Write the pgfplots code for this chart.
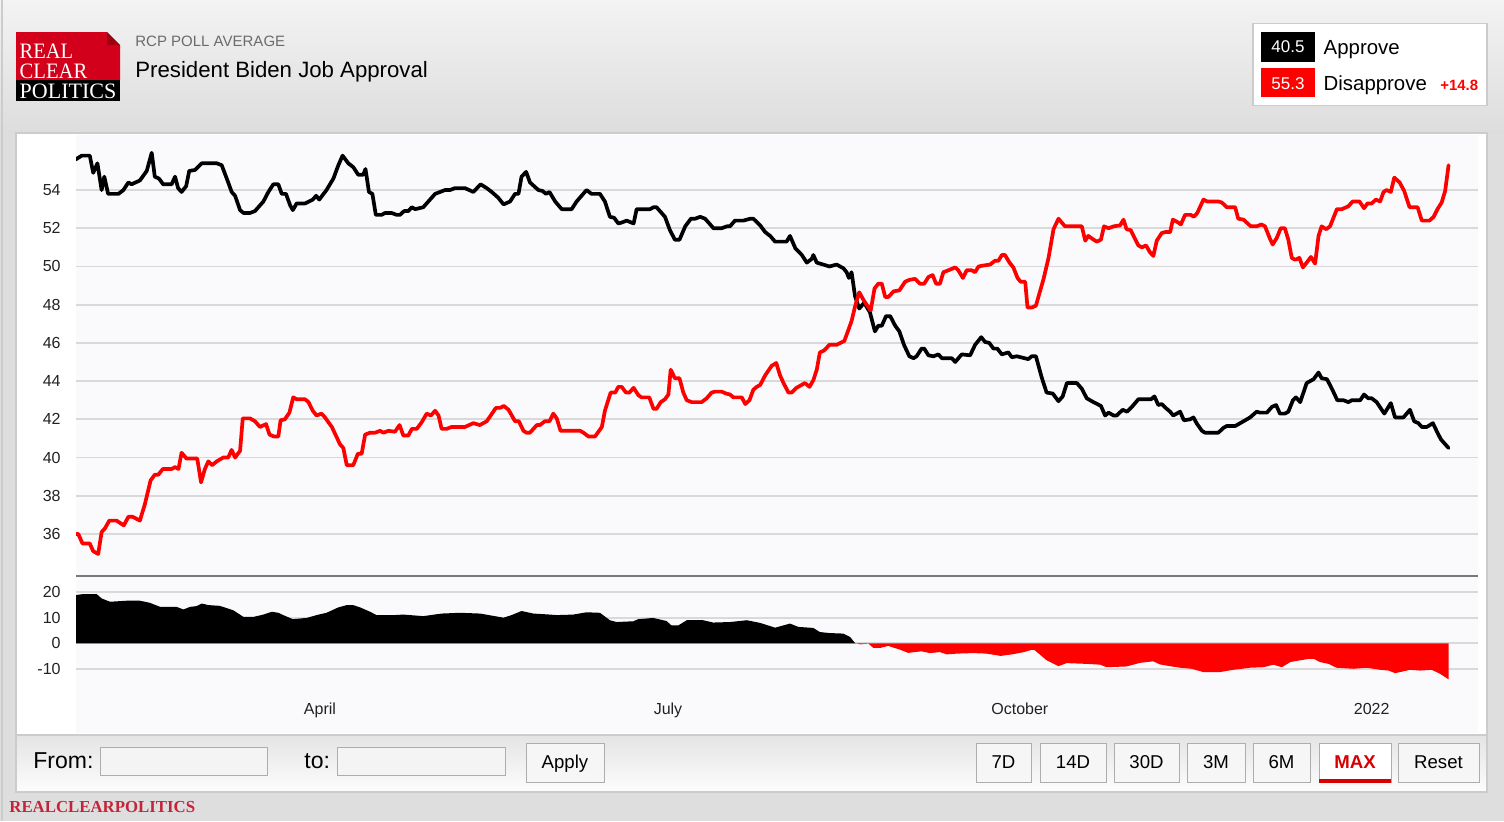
\documentclass[border=0pt]{standalone}
\usepackage{pgfplots}
\pgfplotsset{compat=1.18}
\usepackage{pgfplotstable}
\usepackage{fontspec}
\setmainfont{Liberation Sans}
\newfontfamily\seriffont{Liberation Serif}
\definecolor{hdrtop}{HTML}{F3F3F3}
\definecolor{hdrbot}{HTML}{DDDDDD}
\definecolor{bggrey}{HTML}{DEDEDE}
\definecolor{boxborder}{HTML}{CCCCCC}
\definecolor{plotbg}{HTML}{FAFAFC}
\definecolor{gridc}{HTML}{D9D9D9}
\definecolor{titlegrey}{HTML}{6B6B6B}
\definecolor{rcpred}{HTML}{D2001A}
\definecolor{rcpdark}{HTML}{9E0012}
\definecolor{btnborder}{HTML}{ADADAD}
\definecolor{btnfill}{HTML}{F6F6F6}
\definecolor{maxred}{HTML}{D60000}
\definecolor{footred}{HTML}{C4243A}
\definecolor{seprule}{HTML}{7A7A7A}
\definecolor{tickc}{HTML}{222222}
\definecolor{pure red}{HTML}{FF0000}

\begin{document}
\pgfplotstableread{
d v
26.1 55.6
27.7 55.8
29.8 55.8
30.7 54.9
31.8 55.4
32.9 54.0
33.6 54.7
34.6 53.8
37.3 53.8
38.6 54.0
39.9 54.4
40.7 54.3
42.9 54.5
44.7 55.0
46.0 55.95
46.8 54.7
47.9 54.6
49.0 54.3
51.2 54.3
52.1 54.7
52.9 54.1
53.8 53.9
55.0 54.2
55.8 55.0
57.3 55.05
59.1 55.4
63.0 55.4
64.3 55.3
66.0 54.4
66.9 53.9
67.8 53.7
69.1 52.95
70.0 52.8
71.7 52.8
73.0 52.9
75.2 53.4
76.5 53.9
77.8 54.3
79.1 54.3
80.0 53.8
81.1 53.8
82.2 53.2
82.9 52.95
83.9 53.3
86.1 53.3
88.1 53.5
89.0 53.7
89.8 53.5
91.7 54.0
93.5 54.6
94.8 55.3
95.9 55.8
97.4 55.4
98.7 55.2
100.0 54.8
101.3 54.8
101.9 55.1
102.8 53.9
103.7 53.8
104.6 52.7
106.1 52.7
107.0 52.8
108.7 52.8
110.1 52.7
110.9 52.7
112.0 52.9
113.1 52.9
114.0 53.1
114.9 53.0
117.0 53.1
120.1 53.8
122.7 54.0
124.0 54.0
125.3 54.1
127.9 54.1
130.1 53.9
132.0 54.3
133.6 54.1
134.9 53.9
136.6 53.6
138.0 53.25
139.7 53.4
141.0 53.8
141.9 53.8
142.7 54.7
143.9 54.95
144.9 54.4
147.1 54.0
148.2 53.95
149.1 53.8
150.0 53.9
151.5 53.4
153.2 53.0
155.8 53.0
157.1 53.4
158.4 53.7
159.7 54.0
161.0 53.8
163.2 53.8
164.5 53.4
165.8 52.6
166.9 52.55
168.0 52.25
168.9 52.3
170.2 52.4
172.0 52.25
172.8 53.0
174.6 53.0
176.3 53.0
177.2 53.1
178.0 53.1
180.2 52.6
181.5 51.9
182.8 51.4
184.0 51.4
185.5 52.1
187.0 52.5
188.1 52.5
189.4 52.6
190.7 52.5
192.9 52.0
195.0 52.0
196.4 52.1
197.2 52.1
198.5 52.4
200.7 52.4
202.5 52.5
203.3 52.5
205.1 52.15
206.4 51.8
207.7 51.6
209.0 51.3
212.0 51.3
212.9 51.6
214.3 50.95
216.0 50.6
217.3 50.2
218.6 50.4
219.0 50.6
219.9 50.2
221.6 50.1
223.2 50.0
225.1 50.1
226.9 49.9
227.7 49.7
228.3 49.4
229.0 49.7
229.9 48.45
231.0 47.8
232.3 48.1
233.8 47.6
235.1 46.6
236.0 46.9
236.9 46.9
238.0 47.4
239.1 47.4
240.4 46.9
241.5 46.6
242.7 45.9
244.1 45.3
245.2 45.2
246.0 45.3
247.3 45.7
248.0 45.7
249.1 45.35
250.4 45.3
251.7 45.4
252.6 45.2
253.9 45.2
255.2 45.2
256.1 45.0
257.8 45.4
260.0 45.35
261.3 45.9
262.9 46.3
263.9 46.05
265.0 46.0
266.1 45.7
267.1 45.7
268.3 45.4
270.0 45.5
270.9 45.25
272.2 45.3
275.2 45.15
276.1 45.3
277.2 45.3
278.7 44.2
280.0 43.4
281.6 43.35
283.1 42.95
284.2 43.2
285.3 43.9
287.9 43.9
289.2 43.6
290.5 43.1
291.8 42.95
294.2 42.7
295.3 42.2
296.2 42.35
297.5 42.2
298.3 42.2
299.9 42.5
301.0 42.4
302.5 42.7
304.0 43.05
307.3 43.05
308.2 43.2
309.2 42.75
310.1 42.8
311.4 42.55
312.3 42.4
313.1 42.2
314.9 42.4
315.9 41.95
317.5 42.0
318.4 42.1
319.2 41.8
320.6 41.4
321.4 41.3
324.9 41.3
326.2 41.55
327.1 41.65
329.3 41.65
331.5 41.9
333.2 42.1
334.9 42.4
335.8 42.35
337.6 42.35
338.9 42.65
340.0 42.75
341.0 42.3
342.3 42.3
343.2 42.4
344.4 43.0
345.2 43.15
346.3 42.9
348.0 43.9
349.8 44.1
351.1 44.45
351.9 44.15
353.3 44.1
354.6 43.6
356.0 43.0
357.6 43.0
358.9 42.9
359.8 43.0
362.0 43.0
363.0 43.3
364.1 43.1
365.0 43.1
366.3 42.9
368.3 42.3
370.0 42.85
371.1 42.1
373.3 42.1
375.0 42.5
376.1 41.9
377.2 41.8
378.1 41.6
379.4 41.6
381.0 41.8
382.2 41.3
383.1 40.95
385.1 40.5
}\approve

\pgfplotstableread{
d v
26.1 36.0
26.8 36.0
27.9 35.5
29.8 35.5
30.7 35.1
32.0 34.95
32.9 36.1
33.8 36.3
34.9 36.7
36.8 36.7
38.7 36.45
39.9 36.9
41.0 36.9
42.9 36.7
44.2 37.55
45.7 38.8
46.8 39.1
47.7 39.1
48.9 39.4
51.2 39.4
52.1 39.5
53.0 39.4
53.8 40.25
55.1 39.95
57.9 39.95
58.9 38.7
59.9 39.4
60.8 39.8
61.8 39.6
63.0 39.8
64.7 40.0
66.0 40.0
66.9 40.4
67.8 40.0
69.1 40.35
69.8 42.05
71.7 42.05
73.0 41.9
74.3 41.6
75.9 41.75
76.8 41.2
78.0 41.1
79.1 41.1
79.7 41.95
80.8 42.0
82.0 42.35
83.0 43.15
83.9 43.05
86.1 43.05
87.0 42.9
88.1 42.45
89.1 42.2
90.4 42.3
91.3 42.1
93.1 41.6
94.4 41.05
95.2 40.7
96.1 40.5
97.0 39.6
98.7 39.6
99.9 40.2
100.9 40.2
101.8 41.2
103.1 41.3
104.4 41.3
105.7 41.4
106.6 41.3
107.9 41.4
109.6 41.35
110.8 41.7
111.8 41.15
113.1 41.15
114.0 41.5
115.3 41.5
116.6 41.85
117.9 42.3
119.0 42.2
120.1 42.45
121.0 42.2
121.8 41.5
123.1 41.5
124.4 41.6
127.9 41.6
130.1 41.8
131.8 41.7
133.6 41.9
136.0 42.6
137.1 42.6
138.1 42.7
139.3 42.5
141.0 41.9
142.0 41.9
143.2 41.4
144.0 41.3
144.9 41.3
146.7 41.7
147.5 41.7
148.8 41.9
150.0 41.9
151.0 42.3
151.9 42.05
152.9 41.4
158.0 41.4
158.9 41.3
160.2 41.1
161.9 41.1
163.7 41.6
164.5 42.45
166.0 43.4
167.2 43.4
168.0 43.7
168.9 43.7
170.0 43.4
170.9 43.4
172.0 43.65
173.3 43.25
174.1 43.15
176.1 43.15
177.2 42.55
178.0 42.55
179.1 42.9
180.2 43.05
181.1 43.3
181.7 44.6
182.8 44.15
184.0 44.15
185.0 43.4
185.9 43.0
187.2 42.9
189.8 42.9
191.1 43.1
192.4 43.4
193.3 43.45
195.0 43.45
196.2 43.35
197.2 43.3
198.1 43.15
200.3 43.15
201.2 42.8
202.3 43.0
203.3 43.55
204.2 43.7
205.1 43.8
206.4 44.3
208.1 44.8
209.3 44.95
210.3 44.3
211.2 43.9
212.5 43.4
213.3 43.4
214.6 43.65
216.8 43.9
218.0 43.7
219.0 44.05
219.9 44.6
220.7 45.5
221.8 45.6
223.2 45.9
225.1 45.9
227.1 46.1
228.2 46.7
229.0 47.15
229.9 47.9
231.0 48.65
232.1 48.25
233.1 47.95
234.0 47.7
235.0 48.85
236.0 49.1
236.9 49.1
237.8 48.4
238.6 48.4
240.0 48.7
241.5 48.75
243.0 49.2
244.1 49.3
245.6 49.35
246.9 49.1
248.0 49.1
249.1 49.45
250.2 49.55
251.1 49.1
252.1 49.1
253.0 49.7
254.3 49.8
256.1 49.95
256.9 49.8
258.1 49.4
259.1 49.8
260.4 49.8
261.3 49.7
262.2 50.0
263.5 50.05
265.2 50.1
266.5 50.3
267.4 50.3
268.3 50.6
269.1 50.6
270.3 50.2
271.3 49.95
272.4 49.4
273.2 49.2
274.4 49.2
275.0 47.85
276.1 47.85
277.2 47.95
279.2 49.35
280.5 50.45
281.8 51.95
283.1 52.5
284.8 52.1
289.2 52.1
290.1 51.35
290.9 51.6
292.3 51.4
293.1 51.3
294.2 51.4
295.0 52.1
296.2 52.0
297.5 52.1
299.2 52.15
300.1 52.45
300.9 51.95
302.0 51.9
303.1 51.45
304.0 51.1
304.9 51.0
306.0 51.1
307.0 50.75
307.9 50.55
308.8 51.35
310.1 51.75
311.0 51.8
312.3 51.8
313.0 52.45
314.0 52.35
315.1 52.2
316.2 52.7
317.7 52.7
318.5 52.6
319.4 52.8
321.0 53.5
322.0 53.4
324.9 53.4
325.8 53.35
327.1 53.1
329.3 53.1
330.1 52.5
331.5 52.45
332.3 52.3
333.4 52.1
334.9 52.1
336.2 52.2
337.1 52.1
338.3 51.5
339.1 51.15
340.2 51.5
341.2 52.0
342.3 52.0
343.2 51.4
344.1 50.45
345.0 50.35
346.1 50.45
347.0 49.95
348.0 50.2
349.1 50.5
350.2 50.15
351.1 51.6
351.9 52.1
353.1 51.95
354.1 52.1
355.9 53.0
357.2 53.0
358.9 53.15
360.0 53.4
361.8 53.4
363.0 53.05
363.9 53.3
365.0 53.3
366.1 53.5
367.2 53.4
368.1 53.9
368.9 54.0
370.0 53.9
370.9 54.65
372.3 54.4
373.5 53.95
374.9 53.1
377.0 53.1
378.1 52.4
380.1 52.4
381.2 52.6
382.2 53.0
383.3 53.35
384.2 53.95
385.1 55.3
}\disapprove

\pgfplotstableread{
d v
26.1 0
26.1 18.8
28.1 19.2
31.6 19.2
32.9 17.5
35.1 16.2
39.4 16.6
42.9 16.6
45.5 15.8
48.2 14.2
52.5 14.2
54.3 13.2
56.0 14.2
57.7 14.5
59.1 15.5
60.8 14.9
63.8 14.6
67.3 12.9
70.0 10.3
72.6 10.3
75.2 11.2
77.4 12.3
79.1 11.9
80.4 11.0
82.9 9.4
86.5 9.9
89.1 11.0
91.7 11.9
94.8 14.0
97.0 14.9
98.7 14.9
100.5 14.0
103.1 12.3
104.8 11.0
109.2 11.0
111.8 11.2
117.0 10.6
121.8 11.6
126.6 11.9
131.9 11.6
135.3 10.7
138.0 10.0
140.1 11.0
142.7 12.6
145.8 11.6
149.2 11.3
151.9 11.0
156.2 11.2
159.7 12.1
163.2 11.9
165.8 9.0
167.6 8.3
171.9 8.6
173.2 9.4
177.1 9.9
180.6 8.7
181.9 7.0
183.7 7.0
185.9 9.0
190.2 9.0
192.8 8.1
197.2 8.3
201.6 9.0
205.0 8.0
209.0 6.1
212.9 7.7
215.1 6.4
219.0 6.0
220.7 4.4
223.3 4.0
226.8 3.8
228.6 2.5
229.9 0.1
230.2 0
}\spreadpos

\pgfplotstableread{
d v
230.2 0
231.2 -0.4
233.4 -0.1
234.7 -1.8
236.4 -1.8
238.6 -1.0
241.7 -2.5
243.8 -3.7
247.3 -3.1
249.5 -3.8
252.1 -3.4
253.9 -4.3
256.5 -4.0
260.8 -3.8
264.3 -4.0
268.0 -4.9
271.3 -4.2
274.1 -3.4
276.1 -2.5
276.9 -2.7
280.0 -6.6
283.1 -8.9
285.2 -7.7
290.5 -8.0
294.0 -8.3
295.7 -9.3
300.9 -9.0
304.4 -7.6
307.9 -7.0
309.6 -8.2
312.3 -8.9
314.9 -9.5
317.9 -9.9
321.0 -11.2
325.3 -11.2
328.8 -10.3
333.2 -9.5
336.7 -9.3
339.3 -8.3
341.5 -9.3
343.7 -7.3
346.3 -6.6
348.4 -6.1
349.8 -6.0
351.5 -7.3
353.7 -8.0
355.8 -9.5
360.2 -9.9
363.7 -9.5
367.2 -10.3
369.4 -10.6
371.1 -11.6
372.4 -11.2
375.0 -10.3
377.7 -10.6
380.7 -10.3
382.9 -11.9
385.1 -14.0
385.1 0
}\spreadneg

\begin{tikzpicture}
\begin{scope}[x=0.5pt,y=-0.5pt]
\useasboundingbox (0,0) rectangle (1504,821);
% background
\fill[bggrey] (0,0) rectangle (1504,821);
\shade[top color=hdrtop, bottom color=hdrbot] (0,0) rectangle (1504,133);
\draw[boxborder, line width=0.6pt] (2,0) -- (2,821);
% chart box
\fill[white] (16,133) rectangle (1487,735);
\shade[top color={rgb,255:red,228;green,228;blue,228}, bottom color={rgb,255:red,253;green,253;blue,253}] (16,735) rectangle (1487,792);
\draw[boxborder, line width=0.6pt] (16,735) -- (1487,735);
\draw[boxborder, line width=0.6pt] (16,133) rectangle (1487,792);
\fill[plotbg] (76,135) rectangle (1478,733);
% logo
\fill[rcpred] (16,32) -- (107,32) -- (120,45) -- (120,80) -- (16,80) -- cycle;
\fill[rcpdark] (107,32) -- (120,45) -- (107,45) -- cycle;
\fill[black] (16,80) rectangle (120,100.7);
\node[anchor=base west, inner sep=0pt, text=white, font=\seriffont\fontsize{11}{11}\selectfont, xscale=0.93] at (19.3,58) {REAL};
\node[anchor=base west, inner sep=0pt, text=white, font=\seriffont\fontsize{11}{11}\selectfont, xscale=0.94] at (19.3,78) {CLEAR};
\node[anchor=base west, inner sep=0pt, text=white, font=\seriffont\fontsize{11}{11}\selectfont] at (19.3,98) {POLITICS};
% titles
\node[anchor=base west, inner sep=0pt, text=titlegrey, font=\fontsize{7.5}{9}\selectfont] at (135,46.7) {RCP POLL AVERAGE};
\node[anchor=base west, inner sep=0pt, text=black, font=\fontsize{11.1}{13}\selectfont] at (135,77.7) {President Biden Job Approval};
% legend
\filldraw[fill=white, draw=boxborder, line width=0.6pt] (1253,23.3) rectangle (1487,105.7);
\fill[black] (1261,32.3) rectangle (1314.7,61.7);
\fill[pure red] (1261,68.3) rectangle (1314.7,97.3);
\node[anchor=base, inner sep=0pt, text=white, font=\fontsize{8.5}{10}\selectfont] at (1288,52.3) {40.5};
\node[anchor=base, inner sep=0pt, text=white, font=\fontsize{8.5}{10}\selectfont] at (1288,89) {55.3};
\node[anchor=base west, inner sep=0pt, text=black, font=\fontsize{10.2}{12}\selectfont] at (1323.3,54) {Approve};
\node[anchor=base west, inner sep=0pt, text=black, font=\fontsize{10.2}{12}\selectfont] at (1323.3,90) {Disapprove};
\node[anchor=base west, inner sep=0pt, text=pure red, font=\bfseries\fontsize{7.45}{9}\selectfont] at (1440,90) {+14.8};
% controls
\node[anchor=base west, inner sep=0pt, font=\fontsize{11.5}{13}\selectfont] at (33,768.3) {From:};
\node[anchor=base west, inner sep=0pt, font=\fontsize{11.5}{13}\selectfont] at (304,768.3) {to:};
\filldraw[fill={rgb,255:red,244;green,244;blue,244}, draw=btnborder, line width=0.5pt] (100.7,747.7) rectangle (267.7,775.7);
\filldraw[fill={rgb,255:red,244;green,244;blue,244}, draw=btnborder, line width=0.5pt] (337.3,747.7) rectangle (505,775.7);
\filldraw[fill=btnfill, draw=btnborder, line width=0.5pt] (526,743) rectangle (604,782);
\node[anchor=base, inner sep=0pt, font=\fontsize{9.3}{11}\selectfont] at (565,768.3) {Apply};
\filldraw[fill=btnfill, draw=btnborder, line width=0.5pt] (976,743) rectangle (1031,782);
\node[anchor=base, inner sep=0pt, font=\fontsize{9.3}{11}\selectfont] at (1003.5,768.3) {7D};
\filldraw[fill=btnfill, draw=btnborder, line width=0.5pt] (1040,743) rectangle (1106,782);
\node[anchor=base, inner sep=0pt, font=\fontsize{9.3}{11}\selectfont] at (1073,768.3) {14D};
\filldraw[fill=btnfill, draw=btnborder, line width=0.5pt] (1114,743) rectangle (1179,782);
\node[anchor=base, inner sep=0pt, font=\fontsize{9.3}{11}\selectfont] at (1146.5,768.3) {30D};
\filldraw[fill=btnfill, draw=btnborder, line width=0.5pt] (1187,743) rectangle (1245,782);
\node[anchor=base, inner sep=0pt, font=\fontsize{9.3}{11}\selectfont] at (1216,768.3) {3M};
\filldraw[fill=btnfill, draw=btnborder, line width=0.5pt] (1253,743) rectangle (1310,782);
\node[anchor=base, inner sep=0pt, font=\fontsize{9.3}{11}\selectfont] at (1281.5,768.3) {6M};
\filldraw[fill=white, draw=btnborder, line width=0.5pt] (1319,743) rectangle (1391,782);
\fill[maxred] (1319,779) rectangle (1391,782.5);
\node[anchor=base, inner sep=0pt, text=maxred, font=\bfseries\fontsize{9.3}{11}\selectfont] at (1355,768.3) {MAX};
\filldraw[fill=btnfill, draw=btnborder, line width=0.5pt] (1398,743) rectangle (1479,782);
\node[anchor=base, inner sep=0pt, font=\fontsize{9.3}{11}\selectfont] at (1438.5,768.3) {Reset};
% footer
\node[anchor=base west, inner sep=0pt, text=footred, font=\seriffont\bfseries\fontsize{8.4}{10}\selectfont] at (9,812.5) {REALCLEARPOLITICS};
\end{scope}

% top panel
\begin{axis}[
  at={(38pt,-288pt)}, anchor=south west,
  width=701pt, height=220.5pt, scale only axis,
  xmin=26.2, xmax=392.8, ymin=33.8, ymax=56.88,
  axis line style={draw=none}, tick style={draw=none}, major tick length=0pt,
  xtick=\empty,
  ytick={36,38,40,42,44,46,48,50,52,54},
  yticklabels={36,38,40,42,44,46,48,50,52,54},
  ymajorgrids, grid style={color=gridc, line width=0.95pt},
  yticklabel style={font=\fontsize{8}{9}\selectfont, text=tickc, anchor=east, inner sep=0pt, xshift=-7.5pt},
]
\addplot[black, line width=1.85pt, line join=round, line cap=round, mark=none] table[x=d, y=v] {\approve};
\addplot[pure red, line width=1.85pt, line join=round, line cap=round, mark=none] table[x=d, y=v] {\disapprove};
\end{axis}

% spread panel
\begin{axis}[
  at={(38pt,-345pt)}, anchor=south west,
  width=701pt, height=56.5pt, scale only axis,
  xmin=26.2, xmax=392.8, ymin=-18.18, ymax=25.84,
  axis line style={draw=none}, tick style={draw=none}, major tick length=0pt,
  xtick={90,181,273,365},
  xticklabels={April,July,October,2022},
  ytick={-10,0,10,20},
  yticklabels={-10,0,10,20},
  ymajorgrids, grid style={color=gridc, line width=0.95pt},
  yticklabel style={font=\fontsize{8}{9}\selectfont, text=tickc, anchor=east, inner sep=0pt, xshift=-7.5pt},
  xticklabel style={font=\fontsize{8}{9}\selectfont, text=tickc, anchor=base, inner sep=0pt, yshift=-12pt},
]
\addplot[fill=black, draw=none, mark=none] table[x=d, y=v] {\spreadpos};
\addplot[fill=pure red, draw=none, mark=none] table[x=d, y=v] {\spreadneg};
\end{axis}

\begin{scope}[x=0.5pt,y=-0.5pt]
\draw[seprule, line width=0.75pt] (76,576) -- (1478,576);
\end{scope}
\end{tikzpicture}
\end{document}
